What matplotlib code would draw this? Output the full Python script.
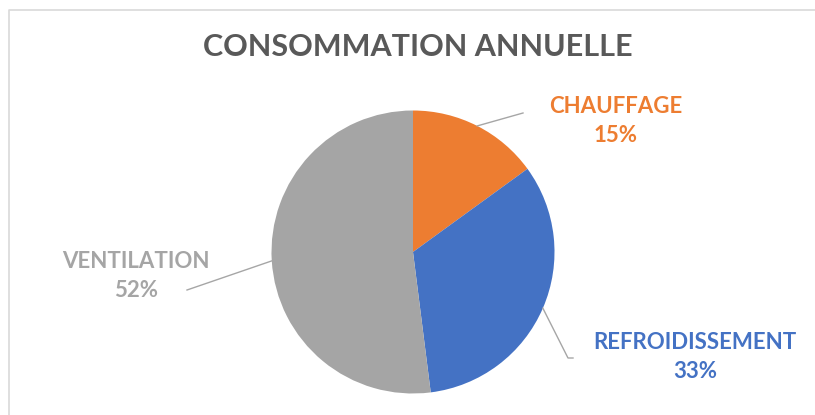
import numpy as np
import matplotlib
matplotlib.use("Agg")
import matplotlib.pyplot as plt

plt.rcParams['font.family'] = ['Lato', 'DejaVu Sans']

# données
categories = ['CHAUFFAGE', 'REFROIDISSEMENT', 'VENTILATION']
valeurs = [15, 33, 52]
couleurs = ['#ED7D31', '#4472C4', '#A5A5A5']
titre = 'CONSOMMATION ANNUELLE'

W, H = 815, 415
fig = plt.figure(figsize=(W / 100, H / 100), dpi=100)
ax = fig.add_axes([0, 0, 1, 1])

# pie in pixel coordinates (y up)
cx, cy, r = 413, H - 252, 141.5
ax.pie(valeurs, colors=couleurs, startangle=90, counterclock=False,
       center=(cx, cy), radius=r, wedgeprops=dict(linewidth=0))
ax.set_xlim(0, W)
ax.set_ylim(0, H)
ax.set_aspect('equal')
ax.axis('off')

# frame lines of the chart area
ax.plot([9, 9, W], [0, H - 10, H - 10], color='#D9D9D9', lw=1.2)

ax.text(418, H - 47, titre, ha='center', va='center', fontsize=22,
        fontweight='bold', color='#595959')

# label anchors (pixel, y down) and leader line ends
lab_pos = [(616, 121), (695, 357), (136, 276)]
line_end = [[(523, 113)], [(568, 358), (573, 358)], [(187, 290)]]

cum = np.cumsum([0] + valeurs[:-1])
for i, (cat, v) in enumerate(zip(categories, valeurs)):
    mid = (cum[i] + v / 2) / 100 * 360
    ex = cx + r * np.sin(np.radians(mid))
    ey = cy + r * np.cos(np.radians(mid))
    xs = [ex] + [p[0] for p in line_end[i]]
    ys = [ey] + [H - p[1] for p in line_end[i]]
    ax.plot(xs, ys, color='#A6A6A6', lw=1)
    lx, ly = lab_pos[i]
    ax.text(lx, H - ly, f'{cat}\n{v}%', ha='center', va='center',
            fontsize=16, fontweight='bold', color=couleurs[i],
            linespacing=1.5)

fig.savefig('out.png', dpi=100)
